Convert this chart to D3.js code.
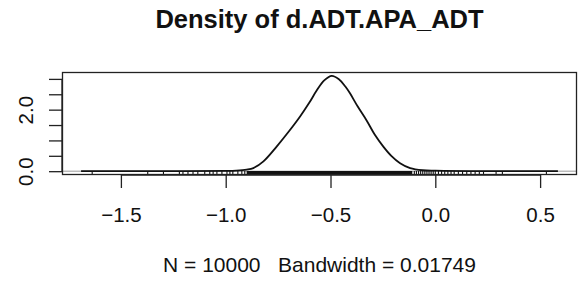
<!DOCTYPE html>
<html>
<head>
<meta charset="utf-8">
<script src="https://cdn.jsdelivr.net/npm/d3@7"></script>
<style>
    body { margin: 0; background: #fff; }
    svg { display: block; font-family: "Liberation Sans", Arial, sans-serif; }
</style>
</head>
<body>
<svg id="chart"></svg>
<script>
// density estimate
const densX = [-1.69, -1.2, -1.0, -0.95, -0.9, -0.868, -0.82, -0.757, -0.7, -0.646, -0.6, -0.566, -0.53, -0.494,
    -0.46, -0.43, -0.407, -0.37, -0.327, -0.29, -0.248, -0.21, -0.168, -0.12, -0.06, 0.0, 0.2, 0.585];
const densY = [0, 0.002, 0.01, 0.02, 0.05, 0.1, 0.32, 0.8, 1.28, 1.77, 2.24, 2.62, 2.95, 3.1,
    2.99, 2.76, 2.53, 2.1, 1.64, 1.2, 0.8, 0.5, 0.26, 0.1, 0.03, 0.015, 0.004, 0];

// rug: isolated observations in the tails, plus the solid core
const rugTails = [-1.637, -1.372, -1.297, -1.221, -1.204, -1.18, -1.156, -1.133, -1.1, -1.076, -1.06, -1.042,
    -1.018, -0.994, -0.98, -0.966, -0.942, -0.923, -0.909,
    -0.1, -0.09, -0.08, -0.07, -0.06, -0.05, -0.04, -0.03, -0.02, -0.01, 0.0, 0.015, 0.03, 0.045, 0.06,
    0.075, 0.09, 0.11, 0.13, 0.15, 0.17, 0.19, 0.21, 0.23, 0.29, 0.32, 0.53];
const rugCore = [-0.9, -0.11];

const xTicks = [-1.5, -1.0, -0.5, 0.0, 0.5];
const yTicks = [0, 0.5, 1.0, 1.5, 2.0, 2.5, 3.0];
const yTickLabels = ["0.0", "", "", "", "2.0", "", ""];

const title = "Density of d.ADT.APA_ADT";
const subtitle = "N = 10000   Bandwidth = 0.01749";

const width = 578;
const height = 282;
const margin = { top: 72, right: 1, bottom: 107, left: 62 };

const svg = d3.select("#chart")
    .attr("width", width)
    .attr("height", height);

// R style: pad the data range by 4% on each side
const pad = ([a, b]) => [a - (b - a) * 0.04, b + (b - a) * 0.04];

const x = d3.scaleLinear()
    .domain(pad(d3.extent(densX)))
    .range([margin.left, width - margin.right]);

const y = d3.scaleLinear()
    .domain(pad([0, d3.max(densY)]))
    .range([height - margin.bottom, margin.top]);

const points = densX.map((d, i) => [d, densY[i]]);

// zero line
svg.append("line")
    .attr("x1", margin.left).attr("x2", width - margin.right)
    .attr("y1", y(0)).attr("y2", y(0))
    .attr("stroke", "#9a9a9a")
    .attr("stroke-width", 1);

// rug
const rugTop = y.range()[0] - 4;
svg.append("rect")
    .attr("x", x(rugCore[0]))
    .attr("width", x(rugCore[1]) - x(rugCore[0]))
    .attr("y", rugTop)
    .attr("height", 4)
    .attr("fill", "#111");

svg.append("g")
    .attr("stroke", "#111")
    .attr("stroke-width", 1.1)
    .selectAll("line")
    .data(rugTails)
    .join("line")
    .attr("x1", d => x(d)).attr("x2", d => x(d))
    .attr("y1", y.range()[0]).attr("y2", rugTop);

// density curve
const line = d3.line()
    .x(d => x(d[0]))
    .y(d => y(d[1]))
    .curve(d3.curveCatmullRom.alpha(0.5));

svg.append("path")
    .datum(points)
    .attr("fill", "none")
    .attr("stroke", "#111")
    .attr("stroke-width", 1.8)
    .attr("d", line);

// plot frame
svg.append("rect")
    .attr("x", margin.left + 0.5)
    .attr("y", margin.top + 0.5)
    .attr("width", width - margin.left - margin.right - 1)
    .attr("height", height - margin.top - margin.bottom - 1)
    .attr("fill", "none")
    .attr("stroke", "#222")
    .attr("stroke-width", 1.3);

// x axis
const xAxis = svg.append("g")
    .attr("transform", `translate(0,${height - margin.bottom})`)
    .call(d3.axisBottom(x).tickValues(xTicks).tickSize(13).tickSizeOuter(0).tickPadding(19)
        .tickFormat(d => d3.format(".1f")(d).replace("-", "\u2212")));
xAxis.select(".domain")
    .attr("d", `M${x(xTicks[0])},0H${x(xTicks[xTicks.length - 1])}`);

// y axis
const yAxis = svg.append("g")
    .attr("transform", `translate(${margin.left},0)`)
    .call(d3.axisLeft(y).tickValues(yTicks).tickSize(13).tickSizeOuter(0)
        .tickFormat((d, i) => yTickLabels[i]));
yAxis.select(".domain")
    .attr("d", `M0,${y(yTicks[0])}V${y(yTicks[yTicks.length - 1])}`);
yAxis.selectAll("text")
    .attr("x", null).attr("dy", null)
    .attr("text-anchor", "middle")
    .attr("transform", "translate(-29,0) rotate(-90)");

svg.selectAll(".tick line, .domain")
    .attr("stroke", "#222")
    .attr("stroke-width", 1.3);

svg.selectAll(".tick text")
    .attr("fill", "#111")
    .attr("font-family", "Liberation Sans, Arial, sans-serif")
    .attr("font-size", 20.5);

// title and subtitle
svg.append("text")
    .attr("x", (margin.left + width - margin.right) / 2)
    .attr("y", 28)
    .attr("text-anchor", "middle")
    .attr("font-size", 25.5)
    .attr("font-weight", "bold")
    .attr("fill", "#111")
    .text(title);

svg.append("text")
    .attr("x", (margin.left + width - margin.right) / 2)
    .attr("y", 272)
    .attr("text-anchor", "middle")
    .attr("font-size", 21)
    .attr("fill", "#111")
    .attr("xml:space", "preserve")
    .style("white-space", "pre")
    .text(subtitle);
</script>
</body>
</html>
